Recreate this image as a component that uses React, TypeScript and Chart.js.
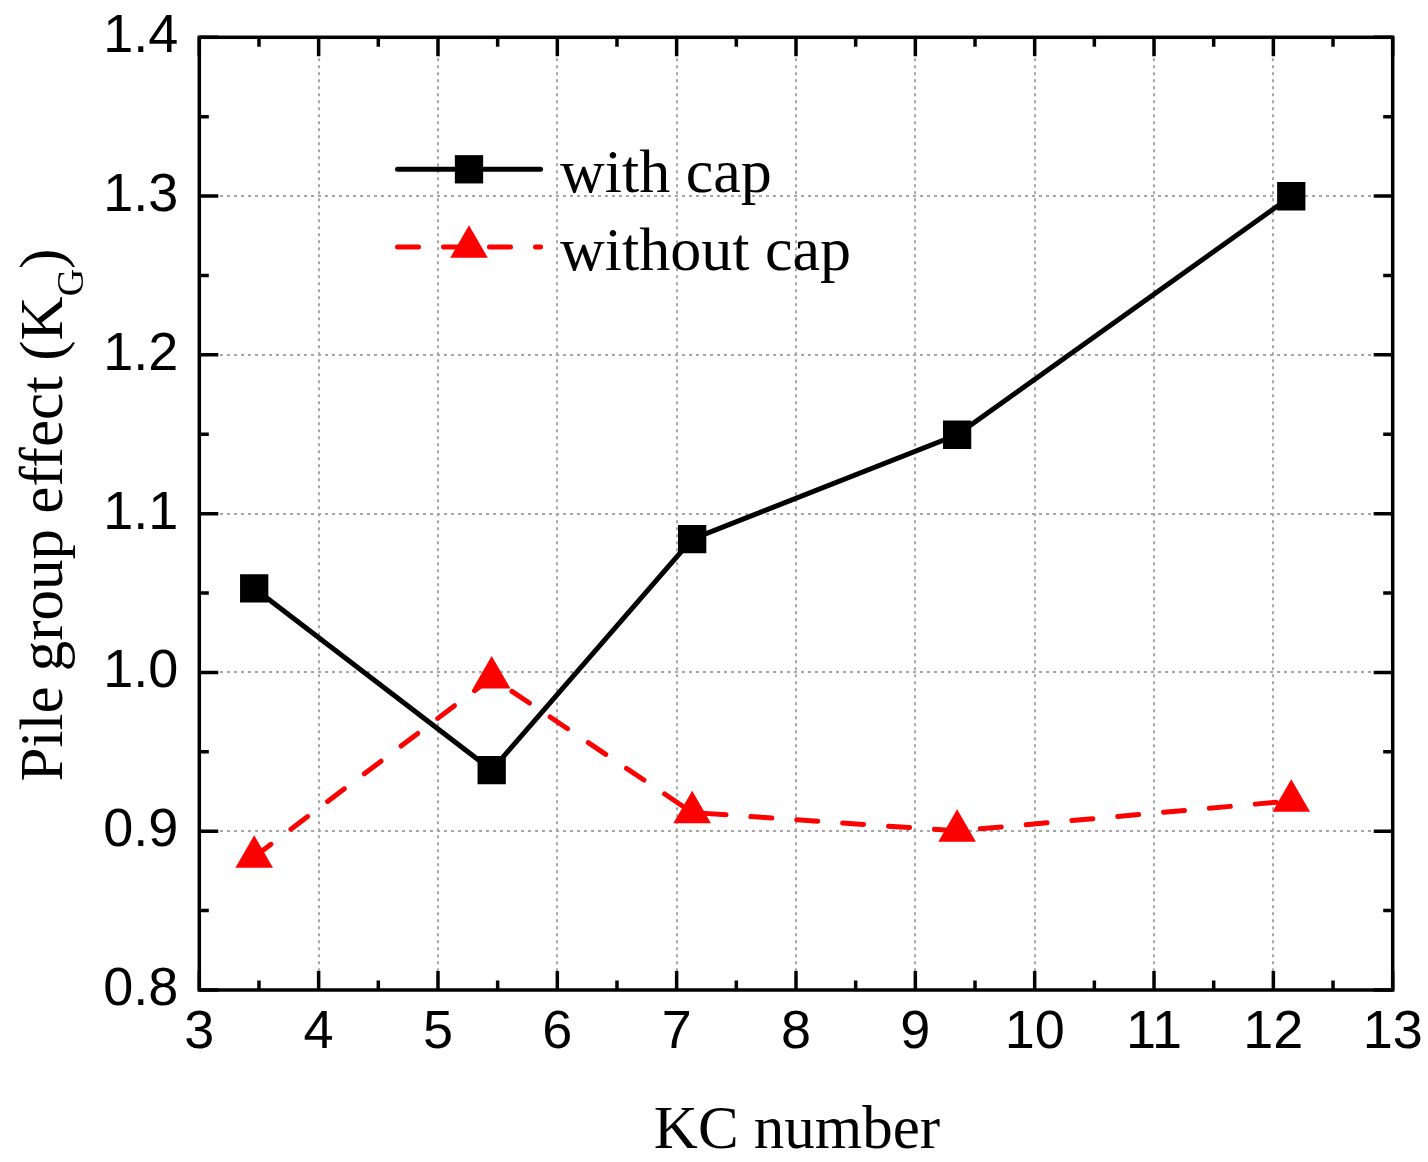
import React, { useEffect, useRef } from "react";
import { Chart, registerables } from "chart.js";

Chart.register(...registerables);

// ---- data ----
const kcWithCap = [3.46, 5.45, 7.13, 9.35, 12.15];
const kgWithCap = [1.053, 0.9385, 1.084, 1.1497, 1.2999];
const kcWithoutCap = [3.46, 5.45, 7.13, 9.35, 12.15];
const kgWithoutCap = [0.8838, 0.9967, 0.9118, 0.9002, 0.9191];

const seriesLabels = ["with cap", "without cap"];

const xTickValues = [3, 4, 5, 6, 7, 8, 9, 10, 11, 12, 13];
const xTickLabels = ["3", "4", "5", "6", "7", "8", "9", "10", "11", "12", "13"];
const yTickValues = [0.8, 0.9, 1.0, 1.1, 1.2, 1.3, 1.4];
const yTickLabels = ["0.8", "0.9", "1.0", "1.1", "1.2", "1.3", "1.4"];

const xTitle = "KC number";
const yTitleMain = "Pile group effect (K";
const yTitleSub = "G";
const yTitleEnd = ")";

const SERIF = '"Liberation Serif", "Times New Roman", serif';
const SANS = '"Liberation Sans", Arial, sans-serif';

const frameAndTicksPlugin = {
  id: "frameAndTicks",
  afterDatasetsDraw(chart: any) {
    const { ctx, chartArea } = chart;
    const { left, right, top, bottom } = chartArea;
    const xs = chart.scales.x;
    const ys = chart.scales.y;
    const major = 19;
    const minor = 9.5;
    ctx.save();
    ctx.strokeStyle = "#000";
    ctx.lineWidth = 3.5;
    ctx.lineCap = "butt";
    const drawX = (v: number, len: number) => {
      const px = xs.getPixelForValue(v);
      ctx.beginPath();
      ctx.moveTo(px, bottom);
      ctx.lineTo(px, bottom - len);
      ctx.moveTo(px, top);
      ctx.lineTo(px, top + len);
      ctx.stroke();
    };
    const drawY = (v: number, len: number) => {
      const py = ys.getPixelForValue(v);
      ctx.beginPath();
      ctx.moveTo(left, py);
      ctx.lineTo(left + len, py);
      ctx.moveTo(right, py);
      ctx.lineTo(right - len, py);
      ctx.stroke();
    };
    xTickValues.forEach((v, i) => {
      drawX(v, major);
      if (i < xTickValues.length - 1) drawX((v + xTickValues[i + 1]) / 2, minor);
    });
    yTickValues.forEach((v, i) => {
      drawY(v, major);
      if (i < yTickValues.length - 1) drawY((v + yTickValues[i + 1]) / 2, minor);
    });
    ctx.lineWidth = 3.5;
    ctx.lineJoin = "miter";
    ctx.strokeRect(left, top, right - left, bottom - top);
    ctx.restore();
  },
  afterDraw(chart: any) {
    const { ctx, chartArea } = chart;
    ctx.save();
    // x title
    ctx.fillStyle = "#000";
    ctx.font = `61px ${SERIF}`;
    ctx.textAlign = "center";
    ctx.textBaseline = "alphabetic";
    ctx.fillText(xTitle, (chartArea.left + chartArea.right) / 2 + 1, 1148);

    // y title (rotated, with subscript)
    ctx.translate(62, 515);
    ctx.rotate(-Math.PI / 2);
    ctx.textAlign = "left";
    ctx.font = `61px ${SERIF}`;
    const w1 = ctx.measureText(yTitleMain).width;
    const w3 = ctx.measureText(yTitleEnd).width;
    ctx.font = `38px ${SERIF}`;
    const w2 = ctx.measureText(yTitleSub).width;
    const total = w1 + w2 + w3;
    const start = -total / 2;
    ctx.font = `61px ${SERIF}`;
    ctx.fillText(yTitleMain, start, 0);
    ctx.font = `38px ${SERIF}`;
    ctx.fillText(yTitleSub, start + w1, 21);
    ctx.font = `61px ${SERIF}`;
    ctx.fillText(yTitleEnd, start + w1 + w2, 0);
    ctx.restore();

    // legend
    ctx.save();
    const ds = chart.data.datasets;
    const rows = [169.3, 247];
    const x0 = 397.5;
    const x1 = 540.5;
    const mx = 469;
    ds.forEach((d: any, i: number) => {
      const y = rows[i];
      ctx.strokeStyle = d.borderColor;
      ctx.lineWidth = d.borderWidth;
      ctx.lineCap = "round";
      ctx.setLineDash(d.borderDash || []);
      ctx.beginPath();
      ctx.moveTo(x0, y);
      ctx.lineTo(x1, y);
      ctx.stroke();
      ctx.setLineDash([]);
      ctx.fillStyle = d.pointBackgroundColor;
      if (d.pointStyle === "rect") {
        const s = Math.SQRT1_2 * d.pointRadius;
        ctx.fillRect(mx - s, y - s, 2 * s, 2 * s);
      } else {
        const r = d.pointRadius;
        ctx.beginPath();
        ctx.moveTo(mx, y - r);
        ctx.lineTo(mx + Math.sin((2 * Math.PI) / 3) * r, y + r / 2);
        ctx.lineTo(mx - Math.sin((2 * Math.PI) / 3) * r, y + r / 2);
        ctx.closePath();
        ctx.fill();
      }
      ctx.fillStyle = "#000";
      ctx.font = `62px ${SERIF}`;
      ctx.textAlign = "left";
      ctx.textBaseline = "alphabetic";
      ctx.fillText(d.label, 560, y + 22.5);
    });
    ctx.restore();
  },
};

const zeroPad = (s: any) => {
  s.paddingTop = 0;
  s.paddingBottom = 0;
  s.paddingLeft = 0;
  s.paddingRight = 0;
};

export default function App() {
  const canvasRef = useRef<HTMLCanvasElement | null>(null);

  useEffect(() => {
    if (!canvasRef.current) return;
    const chart = new Chart(canvasRef.current, {
      type: "line",
      data: {
        datasets: [
          {
            label: seriesLabels[0],
            data: kcWithCap.map((x, i) => ({ x, y: kgWithCap[i] })),
            borderColor: "#000000",
            backgroundColor: "#000000",
            borderWidth: 5,
            pointStyle: "rect",
            pointRadius: 20,
            pointBackgroundColor: "#000000",
            pointBorderWidth: 0,
            pointHoverRadius: 20,
            tension: 0,
            order: 1,
          },
          {
            label: seriesLabels[1],
            data: kcWithoutCap.map((x, i) => ({ x, y: kgWithoutCap[i] })),
            borderColor: "#ff0000",
            backgroundColor: "#ff0000",
            borderWidth: 5,
            borderDash: [21, 25],
            borderCapStyle: "round",
            pointStyle: "triangle",
            pointRadius: 21.7,
            pointBackgroundColor: "#ff0000",
            pointBorderWidth: 0,
            pointHoverRadius: 21.7,
            tension: 0,
            order: 0,
          },
        ] as any,
      },
      options: {
        animation: false,
        responsive: false,
        devicePixelRatio: 1,
        events: [],
        layout: { padding: { top: 37.3, right: 35.3, left: 0, bottom: 0 } },
        plugins: {
          legend: { display: false },
          tooltip: { enabled: false },
          title: { display: false },
        },
        scales: {
          x: {
            type: "linear",
            min: 3,
            max: 13,
            afterFit: (s: any) => {
              s.height = 1162 - 990;
              zeroPad(s);
            },
            afterBuildTicks: (s: any) => {
              s.ticks = xTickValues.map((v) => ({ value: v }));
            },
            ticks: {
              autoSkip: false,
              maxRotation: 0,
              padding: 11,
              color: "#000",
              font: { family: SANS, size: 54 },
              callback: (_v: any, i: number) => xTickLabels[i],
            },
            grid: {
              color: "#a6a6a6",
              lineWidth: 2,
              drawTicks: false,
            },
            border: { display: false, dash: [3, 4] },
          },
          y: {
            type: "linear",
            min: 0.8,
            max: 1.4,
            afterFit: (s: any) => {
              s.width = 199.3;
              zeroPad(s);
            },
            afterBuildTicks: (s: any) => {
              s.ticks = yTickValues.map((v) => ({ value: v }));
            },
            ticks: {
              autoSkip: false,
              padding: 21,
              color: "#000",
              font: { family: SANS, size: 54 },
              callback: (_v: any, i: number) => yTickLabels[i],
            },
            grid: {
              color: "#a6a6a6",
              lineWidth: 2,
              drawTicks: false,
            },
            border: { display: false, dash: [3, 4] },
          },
        },
      } as any,
      plugins: [frameAndTicksPlugin],
    });
    return () => chart.destroy();
  }, []);

  return (
    <div style={{ position: "absolute", left: 0, top: 0, width: 1428, height: 1162, background: "#fff" }}>
      <canvas ref={canvasRef} width={1428} height={1162} style={{ display: "block" }} />
    </div>
  );
}
